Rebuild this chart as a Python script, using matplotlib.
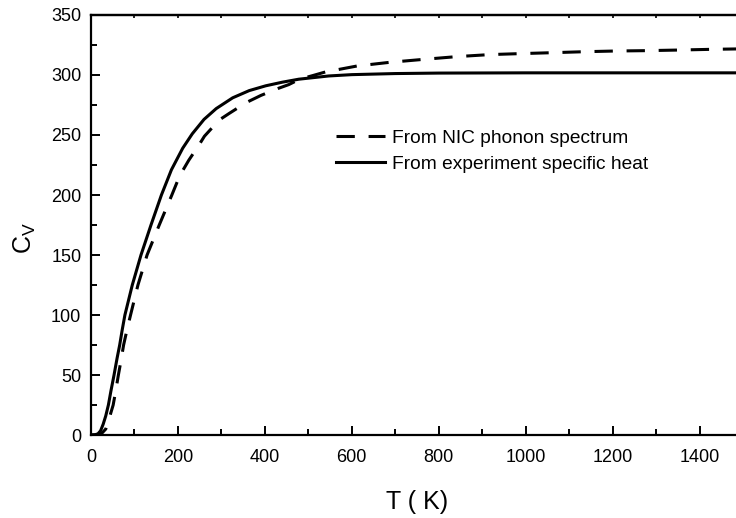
import matplotlib
matplotlib.use("Agg")
import matplotlib.pyplot as plt
from matplotlib.ticker import MultipleLocator

plt.rcParams['font.family'] = ['Liberation Sans', 'DejaVu Sans']

# Series
T_exp = [0, 10, 16, 22, 28, 34, 40, 46, 53, 60, 66, 72, 78, 95, 115, 138, 162, 185,
         211, 233, 260, 288, 326, 364, 402, 440, 478, 547, 600, 700, 800, 1000, 1200, 1500]
C_exp = [0, 0.3, 1, 3.5, 9, 16, 25, 37, 50, 64, 75, 88, 100, 125, 150, 175, 200, 221,
         239, 251, 263, 272, 281, 287, 291, 294, 296.5, 299.2, 300.3, 301.2, 301.6,
         301.8, 301.8, 301.8]

T_nic = [0, 15, 20, 25, 34, 42, 51, 57, 63, 69, 75, 83, 91, 108, 129, 157, 186, 204,
         225, 249, 261, 295, 318, 357, 391, 432, 455, 480, 510, 539, 612, 688, 764,
         841, 917, 986, 1062, 1134, 1207, 1279, 1352, 1428, 1500]
C_nic = [0, 0, 0.3, 1.5, 5, 14, 25, 37, 50, 62, 75, 88, 100, 125, 150, 175, 200, 216,
         229, 242, 249, 262.5, 268, 277, 283, 289, 292, 296.5, 299.5, 302.5, 307.5,
         310.6, 313, 315.3, 317, 317.8, 318.6, 319.4, 320, 320.3, 320.8, 321.4, 321.8]

label_nic = "From NIC phonon spectrum"
label_exp = "From experiment specific heat"

fig = plt.figure(figsize=(7.36, 5.18), dpi=100)
ax = fig.add_axes([91/736, 83/518, 652/736, 420/518])

ax.plot(T_nic, C_nic, color='black', lw=2.2, linestyle=(0, (6, 4.5)), label=label_nic)
ax.plot(T_exp, C_exp, color='black', lw=2.2, label=label_exp)

ax.set_xlim(0, 1500)
ax.set_ylim(0, 350)
ax.xaxis.set_major_locator(MultipleLocator(200))
ax.xaxis.set_minor_locator(MultipleLocator(100))
ax.yaxis.set_major_locator(MultipleLocator(50))
ax.yaxis.set_minor_locator(MultipleLocator(25))

for s in ax.spines.values():
    s.set_linewidth(1.6)

ax.tick_params(which='major', direction='in', length=6.8, width=1.4, labelsize=13,
               top=False, right=False)
ax.tick_params(which='minor', direction='in', length=4, width=1.4, top=False, right=False)
ax.tick_params(axis='x', which='major', pad=10)
ax.tick_params(axis='y', which='major', pad=7)

# short ticks along the top spine
sec = ax.secondary_xaxis('top')
sec.xaxis.set_major_locator(MultipleLocator(100))
sec.tick_params(direction='in', length=2.2, width=1.2, labeltop=False)
sec.spines['top'].set_linewidth(1.6)

ax.set_xlabel("T ( K)", fontsize=18)
ax.set_ylabel(r"C$_\mathregular{V}$", fontsize=18)
ax.xaxis.set_label_coords(0.5, -0.13)
ax.yaxis.set_label_coords(-0.082, 0.469)

leg = ax.legend(loc='center left', bbox_to_anchor=(336/736, 1 - 151/518),
                bbox_transform=fig.transFigure, frameon=False, fontsize=13.8,
                handlelength=2.55, handletextpad=0.36, borderpad=0, borderaxespad=0,
                labelspacing=0.44)

fig.savefig("out.png", dpi=100)
